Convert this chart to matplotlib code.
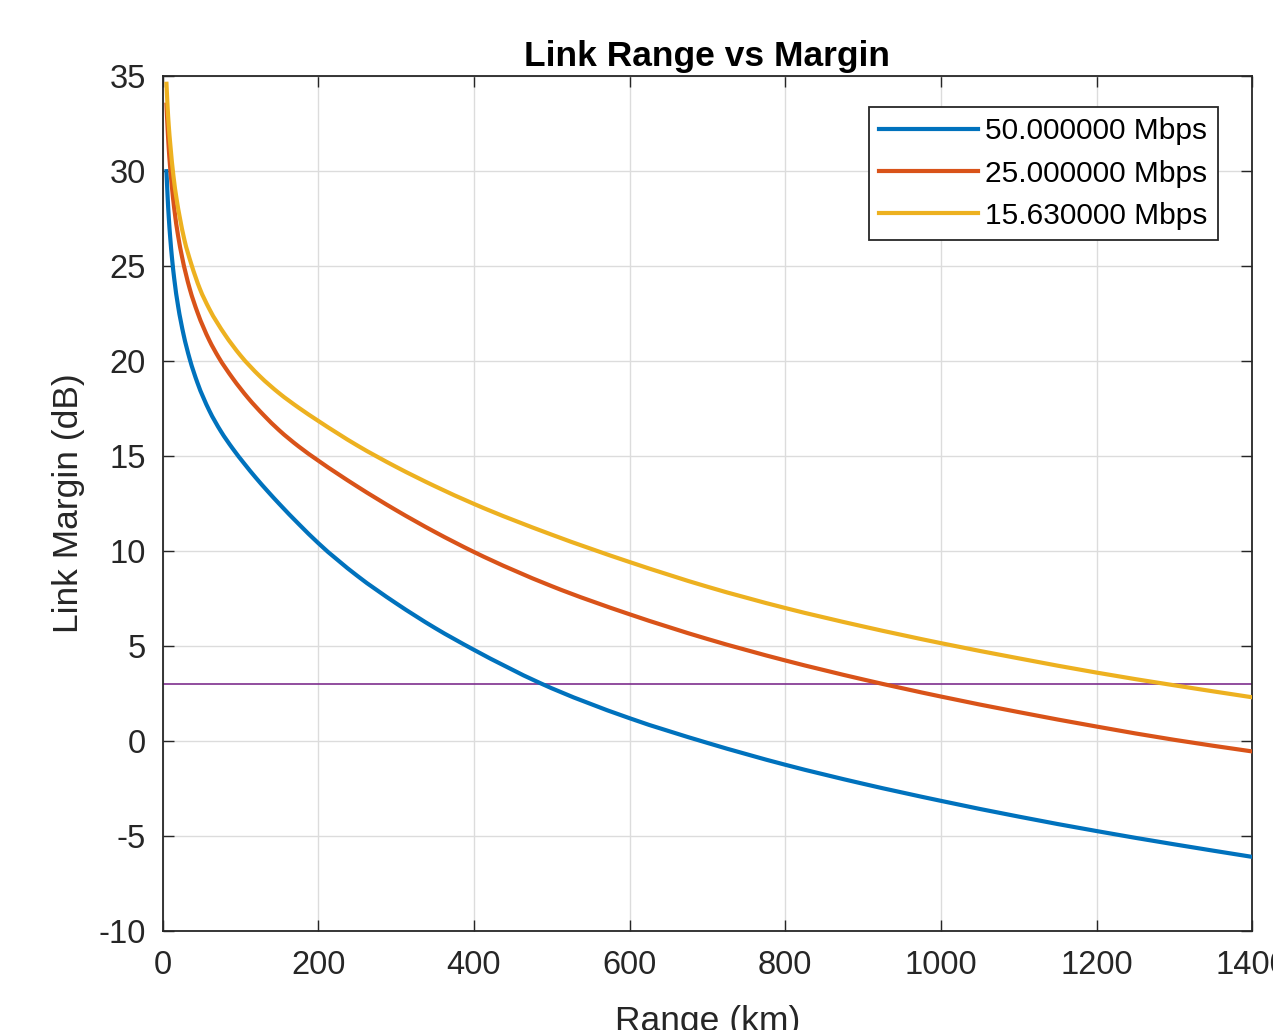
import numpy as np
import matplotlib
matplotlib.use("Agg")
import matplotlib.pyplot as plt
from matplotlib.path import Path
from matplotlib.patches import PathPatch
from matplotlib.lines import Line2D

plt.rcParams['font.family'] = ['Liberation Sans', 'DejaVu Sans']
plt.rcParams['axes.unicode_minus'] = False

# values (range in km, margin in dB)
range_50 = [5, 6.5, 8, 10, 12, 15, 20, 27, 35, 45, 60, 75, 90, 105, 120,
            135, 150, 175, 200, 250, 300, 350, 400, 485, 600, 700, 800,
            900, 1000, 1100, 1200, 1300, 1400]
margin_50 = [30.1, 28.7, 27.6, 26.45, 25.5, 24.35, 22.9, 21.4, 20.1, 18.84,
             17.4, 16.3, 15.4, 14.6, 13.85, 13.15, 12.48, 11.42, 10.42, 8.7,
             7.25, 5.95, 4.8, 3.05, 1.2, -0.1, -1.25, -2.25, -3.15, -3.98,
             -4.74, -5.44, -6.1]

range_25 = [5, 6.5, 8, 9.6, 12, 15, 20, 25, 35, 45, 60, 72, 90, 110, 130,
            150, 175, 200, 250, 300, 350, 400, 500, 600, 700, 800, 900,
            1000, 1100, 1200, 1300, 1400]
margin_25 = [33.6, 32.3, 31.2, 30.3, 29.2, 28.05, 26.6, 25.5, 23.8, 22.55,
             21.1, 20.2, 19.1, 18.05, 17.15, 16.35, 15.5, 14.76, 13.4, 12.15,
             11.0, 9.95, 8.15, 6.67, 5.37, 4.24, 3.24, 2.34, 1.52, 0.76,
             0.06, -0.55]

range_15 = [5, 6.5, 8, 10, 14, 18, 22, 28, 37, 48, 60, 80, 100, 125, 150,
            175, 200, 250, 300, 350, 400, 500, 600, 700, 800, 900, 1000,
            1100, 1200, 1300, 1400]
margin_15 = [34.7, 33.4, 32.4, 31.4, 29.75, 28.55, 27.6, 26.4, 25.1, 23.8,
             22.75, 21.4, 20.3, 19.2, 18.3, 17.54, 16.85, 15.56, 14.43,
             13.41, 12.48, 10.86, 9.42, 8.12, 7.0, 6.03, 5.15, 4.35, 3.6,
             2.93, 2.3]

labels = ["50.000000 Mbps", "25.000000 Mbps", "15.630000 Mbps"]
colors = ["#0072BD", "#D95319", "#EDB120"]
threshold = 3
x_ticks = [0, 200, 400, 600, 800, 1000, 1200, 1400]
y_ticks = [-10, -5, 0, 5, 10, 15, 20, 25, 30, 35]


def smooth_path(xs, ys):
    # cubic Bezier path through the read points (Hermite tangents)
    x = np.asarray(xs, dtype=float)
    y = np.asarray(ys, dtype=float)
    h = np.diff(x)
    d = np.diff(y) / h
    m = np.empty_like(x)
    m[0], m[-1] = d[0], d[-1]
    m[1:-1] = (h[:-1] * d[1:] + h[1:] * d[:-1]) / (h[:-1] + h[1:])
    verts = [(x[0], y[0])]
    codes = [Path.MOVETO]
    for i in range(len(x) - 1):
        verts += [(x[i] + h[i] / 3, y[i] + m[i] * h[i] / 3),
                  (x[i + 1] - h[i] / 3, y[i + 1] - m[i + 1] * h[i] / 3),
                  (x[i + 1], y[i + 1])]
        codes += [Path.CURVE4] * 3
    return Path(verts, codes)


fig = plt.figure(figsize=(12.73, 10.30), dpi=100)
ax = fig.add_axes([162.5 / 1273, 99 / 1030, 1089.8 / 1273, 855 / 1030])

handles = []
for xs, ys, lab, col in zip([range_50, range_25, range_15],
                            [margin_50, margin_25, margin_15],
                            labels, colors):
    ax.add_patch(PathPatch(smooth_path(xs, ys), fill=False, edgecolor=col,
                           lw=3, capstyle='butt', zorder=3))
    handles.append(Line2D([], [], color=col, lw=3, label=lab))

ax.axhline(threshold, color="#7E2F8E", lw=1.2, zorder=2)

ax.set_xlim(0, 1400)
ax.set_ylim(-10, 35)
ax.set_xticks(x_ticks)
ax.set_yticks(y_ticks)
ax.grid(True, color="#dcdcdc", lw=1)
ax.set_axisbelow(True)

for sp in ax.spines.values():
    sp.set_color("#262626")
    sp.set_linewidth(1.3)
ax.tick_params(axis='both', direction='in', length=8, width=1,
               colors="#262626", labelsize=23.5, top=True, right=True)
ax.tick_params(axis='x', pad=14)
ax.tick_params(axis='y', pad=12)

ax.set_title("Link Range vs Margin", fontsize=25.5, fontweight='bold',
             pad=7)
ax.set_xlabel("Range (km)", fontsize=25.5, color="#262626", labelpad=17)
ax.set_ylabel("Link Margin (dB)", fontsize=25.5, color="#262626",
              labelpad=10)

leg = ax.legend(handles=handles, loc='upper right',
                bbox_to_anchor=(0.9685, 0.9637),
                borderaxespad=0, fontsize=21.5, fancybox=False,
                framealpha=1, edgecolor="#262626", handlelength=3.3,
                handletextpad=0.25, labelspacing=0.47, borderpad=0.35)
leg.get_frame().set_linewidth(1.3)

fig.savefig("out.png", dpi=100)
